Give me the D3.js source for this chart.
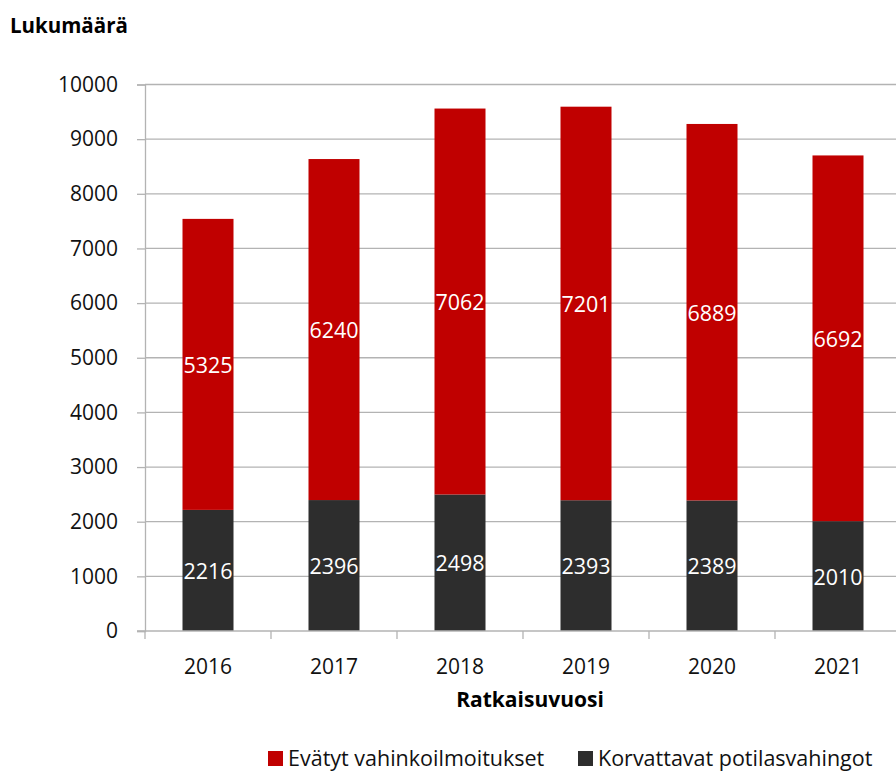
<!DOCTYPE html>
<html><head><meta charset="utf-8">
<script src="https://cdn.jsdelivr.net/npm/d3@7"></script>
<style>
html,body{margin:0;padding:0;background:#fff;}
svg{display:block;font-family:"Open Sans","Noto Sans",sans-serif;}
</style></head>
<body>
<svg id="c" width="896" height="772"></svg>
<script>
const years = ["2016","2017","2018","2019","2020","2021"];
const korvattavat = [2216, 2396, 2498, 2393, 2389, 2010];
const evatyt = [5325, 6240, 7062, 7201, 6889, 6692];
const yTicks = [0,1000,2000,3000,4000,5000,6000,7000,8000,9000,10000];
const seriesNames = ["Evätyt vahinkoilmoitukset", "Korvattavat potilasvahingot"];
const colors = {ev: "#c00000", ko: "#2d2d2d"};

(function(){
const svg = d3.select("#c");
const pL = 145, pR = 901, pT = 84.5, pB = 631;

const xb = d3.scaleBand().domain(years).range([pL, pR]).padding(0);
const y = d3.scaleLinear().domain([0, 10000]).range([pB, pT]);

// gridlines
svg.append("g").selectAll("line").data(yTicks.filter(d => d > 0)).join("line")
  .attr("x1", pL).attr("x2", pR)
  .attr("y1", d => y(d)).attr("y2", d => y(d))
  .attr("stroke", "#b3b3b3").attr("stroke-width", 1.3);

// y axis
const yAxis = svg.append("g").attr("transform", `translate(${pL},0)`)
  .call(d3.axisLeft(y).tickValues(yTicks).tickSize(8).tickPadding(19).tickFormat(d3.format("d")));
yAxis.select(".domain").attr("stroke", "#b3b3b3").attr("stroke-width", 1.3);
yAxis.selectAll(".tick line").attr("stroke", "#b3b3b3").attr("stroke-width", 1.3);
yAxis.selectAll("text").attr("font-size", 21).attr("fill", "#111").attr("font-family", "Open Sans");

// stacked data
const data = years.map((yr, i) => ({year: yr, ko: korvattavat[i], ev: evatyt[i]}));
const stack = d3.stack().keys(["ko", "ev"])(data);

const bw = 51;
const g = svg.append("g");
stack.forEach(layer => {
  g.selectAll(null).data(layer).join("rect")
    .attr("x", d => xb(d.data.year) + xb.bandwidth()/2 - bw/2)
    .attr("width", bw)
    .attr("y", d => y(d[1]))
    .attr("height", d => y(d[0]) - y(d[1]))
    .attr("fill", colors[layer.key]);
  g.selectAll(null).data(layer).join("text")
    .attr("x", d => xb(d.data.year) + xb.bandwidth()/2)
    .attr("y", d => (y(d[0]) + y(d[1]))/2)
    .attr("dy", "0.4em")
    .attr("text-anchor", "middle")
    .attr("font-size", 21.5).attr("fill", "#fff")
    .text(d => d[1] - d[0]);
});

// x axis
const xAxisG = svg.append("g").attr("transform", `translate(0,${pB})`);
xAxisG.append("line").attr("x1", pL - 8).attr("x2", pR).attr("y1", 0).attr("y2", 0)
  .attr("stroke", "#b3b3b3").attr("stroke-width", 1.3);
const bounds = [pL].concat(years.map(d => xb(d) + xb.bandwidth()));
xAxisG.selectAll("line.tk").data(bounds).join("line")
  .attr("class", "tk")
  .attr("x1", d => d).attr("x2", d => d)
  .attr("y1", 0).attr("y2", 8)
  .attr("stroke", "#b3b3b3").attr("stroke-width", 1.3);
xAxisG.selectAll("text").data(years).join("text")
  .attr("x", d => xb(d) + xb.bandwidth()/2)
  .attr("y", 43)
  .attr("text-anchor", "middle").attr("font-size", 21).attr("fill", "#111")
  .text(d => d);

// titles
svg.append("text").attr("x", 10).attr("y", 33).attr("font-size", 20.5).attr("font-weight", "bold")
  .attr("fill", "#000").text("Lukumäärä");
svg.append("text").attr("x", 530).attr("y", 707).attr("text-anchor", "middle")
  .attr("font-size", 21).attr("font-weight", "bold").attr("fill", "#000").text("Ratkaisuvuosi");

// legend
const legend = [{name: seriesNames[0], c: colors.ev, x: 268}, {name: seriesNames[1], c: colors.ko, x: 578}];
const lg = svg.append("g");
lg.selectAll("rect").data(legend).join("rect")
  .attr("x", d => d.x).attr("y", 751).attr("width", 15).attr("height", 15).attr("fill", d => d.c);
lg.selectAll("text").data(legend).join("text")
  .attr("x", d => d.x + 20).attr("y", 766).attr("font-size", 21.5).attr("fill", "#111")
  .text(d => d.name);
})();
</script>
</body></html>
